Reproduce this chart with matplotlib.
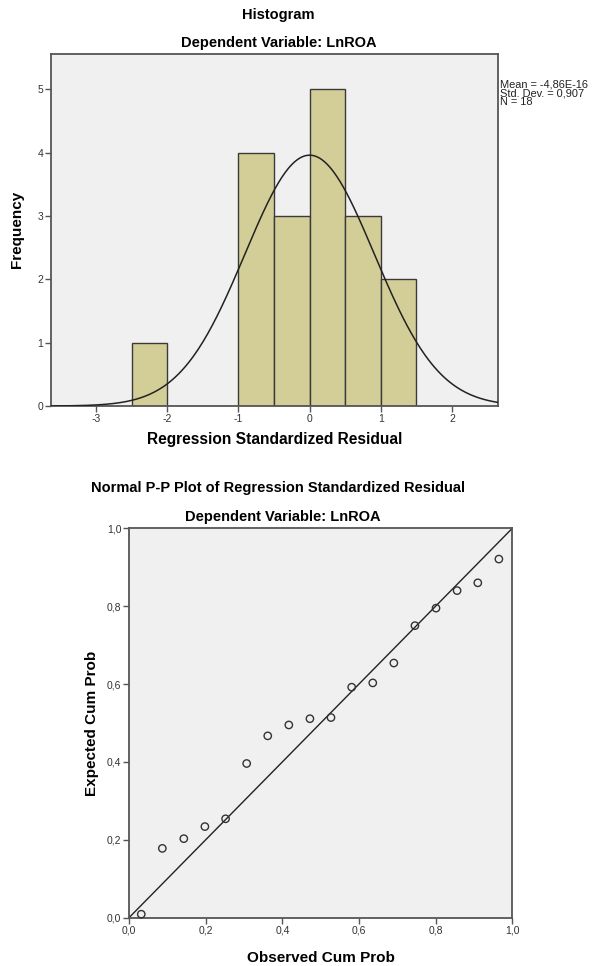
import numpy as np
import matplotlib
matplotlib.use("Agg")
import matplotlib.pyplot as plt

plt.rcParams['font.family'] = ['Liberation Sans', 'DejaVu Sans']

# histogram data (bins of width 0.5)
bin_left = [-2.5, -1.0, -0.5, 0.0, 0.5, 1.0]
counts = [1, 4, 3, 5, 3, 2]
bin_width = 0.5
res_mean = -4.86e-16
res_sd = 0.907
n_obs = 18

# P-P plot data
observed_cum = [0.032, 0.087, 0.143, 0.198, 0.252, 0.307, 0.362, 0.417, 0.472,
                0.527, 0.581, 0.636, 0.691, 0.746, 0.801, 0.856, 0.910, 0.965]
expected_cum = [0.009, 0.178, 0.203, 0.234, 0.254, 0.396, 0.467, 0.495, 0.511,
                0.514, 0.592, 0.603, 0.654, 0.750, 0.795, 0.840, 0.860, 0.921]

bg = '#f0f0f0'
spine_col = '#555555'
bar_col = '#d3ce97'

fig = plt.figure(figsize=(5.95, 9.66), dpi=100)

def style(ax):
    ax.set_facecolor(bg)
    for s in ax.spines.values():
        s.set_color(spine_col)
        s.set_linewidth(1.3)
    ax.tick_params(direction='out', length=4, width=1, color=spine_col,
                   labelsize=7.5, labelcolor='#333333', pad=1.5)

# ---- Histogram ----
ax1 = fig.add_axes([0.0857, 0.5797, 0.7508, 0.3647])
style(ax1)
ax1.bar(bin_left, counts, width=bin_width, align='edge', color=bar_col,
        edgecolor='#3a3a3a', linewidth=1.0, zorder=2)
xs = np.linspace(-3.63, 2.64, 400)
curve = n_obs * bin_width * np.exp(-0.5 * ((xs - res_mean) / res_sd) ** 2) / (res_sd * np.sqrt(2 * np.pi))
ax1.plot(xs, curve, color='#222222', linewidth=1.1, zorder=3)
ax1.set_xlim(-3.63, 2.64)
ax1.set_ylim(0, 5.56)
ax1.set_xticks([-3, -2, -1, 0, 1, 2])
ax1.set_xticklabels(['-3', '-2', '-1', '0', '1', '2'])
ax1.set_yticks([0, 1, 2, 3, 4, 5])
ax1.set_xlabel('Regression Standardized Residual', fontsize=11.2,
               fontweight='bold', labelpad=6)
ax1.set_ylabel('Frequency', fontsize=11, fontweight='bold', labelpad=10)
fig.text(0.468, 0.984, 'Histogram', ha='center', va='center',
         fontsize=10.5, fontweight='bold')
fig.text(0.468, 0.955, 'Dependent Variable: LnROA', ha='center', va='center',
         fontsize=10.5, fontweight='bold')
fig.text(0.841, 0.918, 'Mean = -4,86E-16\nStd. Dev. = 0,907\nN = 18',
         ha='left', va='top', fontsize=7.9, linespacing=0.88, color='#222222')

# ---- Normal P-P plot ----
ax2 = fig.add_axes([0.2168, 0.05, 0.6442, 0.4031])
style(ax2)
ax2.plot([0, 1], [0, 1], color='#222222', linewidth=1.0)
ax2.scatter(observed_cum, expected_cum, s=28, facecolors='none',
            edgecolors='#333333', linewidths=1.0, zorder=3, clip_on=False)
ax2.set_xlim(0, 1)
ax2.set_ylim(0, 1)
ticks = [0, 0.2, 0.4, 0.6, 0.8, 1.0]
labels = ['0,0', '0,2', '0,4', '0,6', '0,8', '1,0']
ax2.set_xticks(ticks)
ax2.set_xticklabels(labels)
ax2.set_yticks(ticks)
ax2.set_yticklabels(labels)
ax2.set_xlabel('Observed Cum Prob', fontsize=11, fontweight='bold', labelpad=11)
ax2.set_ylabel('Expected Cum Prob', fontsize=11, fontweight='bold', labelpad=6)
fig.text(0.468, 0.495, 'Normal P-P Plot of Regression Standardized Residual',
         ha='center', va='center', fontsize=10.5, fontweight='bold')
fig.text(0.476, 0.465, 'Dependent Variable: LnROA', ha='center', va='center',
         fontsize=10.5, fontweight='bold')

fig.savefig('out.png', dpi=100)
